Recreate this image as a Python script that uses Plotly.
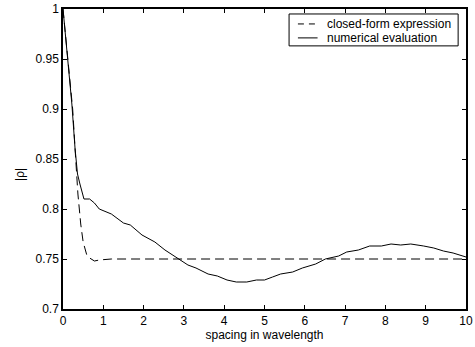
import plotly.graph_objects as go

# spacing in wavelengths and |rho| for the two methods
closed_x = [0, 0.12, 0.24, 0.30, 0.37, 0.44, 0.50, 0.59, 0.66, 0.78, 0.90, 1.2, 10]
closed_y = [1.0, 0.95, 0.90, 0.86, 0.815, 0.785, 0.767, 0.754, 0.751, 0.748, 0.749, 0.75, 0.75]

numeric_x = [0, 0.12, 0.22, 0.30, 0.36, 0.42, 0.52, 0.66, 0.78, 0.90, 1.2, 1.5, 1.67,
             1.96, 2.28, 2.53, 2.73, 2.93, 3.1, 3.3, 3.6, 3.83, 4.07, 4.3, 4.56, 4.8,
             5.0, 5.2, 5.4, 5.7, 5.94, 6.27, 6.51, 6.84, 7.04, 7.33, 7.61, 7.9, 8.14,
             8.38, 8.63, 8.95, 9.2, 9.44, 9.68, 10]
numeric_y = [1.0, 0.95, 0.905, 0.86, 0.835, 0.825, 0.810, 0.810, 0.806, 0.800, 0.795,
             0.786, 0.784, 0.774, 0.767, 0.759, 0.754, 0.749, 0.744, 0.741, 0.735,
             0.733, 0.729, 0.727, 0.727, 0.729, 0.729, 0.732, 0.735, 0.737, 0.741,
             0.745, 0.750, 0.753, 0.757, 0.759, 0.763, 0.763, 0.765, 0.764, 0.765,
             0.763, 0.761, 0.758, 0.756, 0.752]

x_ticks = list(range(0, 11))
y_ticks = [0.7, 0.75, 0.8, 0.85, 0.9, 0.95, 1.0]
y_tick_text = ["0.7", "0.75", "0.8", "0.85", "0.9", "0.95", "1"]

legend_labels = ["closed-form expression", "numerical evaluation"]

FONT = "Liberation Sans, Arial, sans-serif"
fs = 12

fig = go.Figure()
fig.add_trace(go.Scatter(x=closed_x, y=closed_y, mode="lines",
                         line=dict(color="black", width=1, dash="9px,5px"),
                         showlegend=False))
fig.add_trace(go.Scatter(x=numeric_x, y=numeric_y, mode="lines",
                         line=dict(color="black", width=1),
                         showlegend=False))

axis_common = dict(showline=True, linecolor="black", linewidth=1.5, mirror="ticks",
                   ticks="inside", ticklen=4, tickcolor="black", tickwidth=1,
                   showgrid=False, zeroline=False, ticklabeloverflow="allow",
                   tickfont=dict(family=FONT, size=fs, color="black"))

fig.update_xaxes(range=[0, 10], tickvals=x_ticks, **axis_common,
                 title=dict(text="spacing in wavelength", standoff=2,
                            font=dict(family=FONT, size=fs, color="black")))
fig.update_yaxes(range=[0.7, 1.0], tickvals=y_ticks, ticktext=y_tick_text, **axis_common)

# y-axis label
fig.add_annotation(text="|&#961;|", xref="paper", yref="paper", x=-0.107, y=0.45,
                   xanchor="center", yanchor="middle",
                   textangle=-90, showarrow=False,
                   font=dict(family=FONT, size=fs, color="black"))

# legend box drawn in paper coordinates
W, H = 475, 347
ml, mr, mt, mb = 63, 2, 8, 38
pw, ph = W - ml - mr, H - mt - mb


def px(xp):
    return (xp - ml) / pw


def py(yp):
    return 1 - (yp - mt) / ph


fig.add_shape(type="rect", xref="paper", yref="paper",
              x0=px(293), x1=px(465), y0=py(45), y1=py(13),
              line=dict(color="black", width=1), fillcolor="white", layer="above")
fig.add_shape(type="line", xref="paper", yref="paper",
              x0=px(302), x1=px(322), y0=py(23), y1=py(23),
              line=dict(color="black", width=1, dash="6px,5px"), layer="above")
fig.add_shape(type="line", xref="paper", yref="paper",
              x0=px(302), x1=px(322), y0=py(37), y1=py(37),
              line=dict(color="black", width=1), layer="above")
for label, ypix in zip(legend_labels, [23, 37]):
    fig.add_annotation(text=label, xref="paper", yref="paper", x=px(330), y=py(ypix),
                       xanchor="left", yanchor="middle", showarrow=False,
                       font=dict(family=FONT, size=fs, color="black"))

fig.update_layout(width=W, height=H, margin=dict(l=ml, r=mr, t=mt, b=mb),
                  plot_bgcolor="white", paper_bgcolor="white")

fig.write_html("out.html")
